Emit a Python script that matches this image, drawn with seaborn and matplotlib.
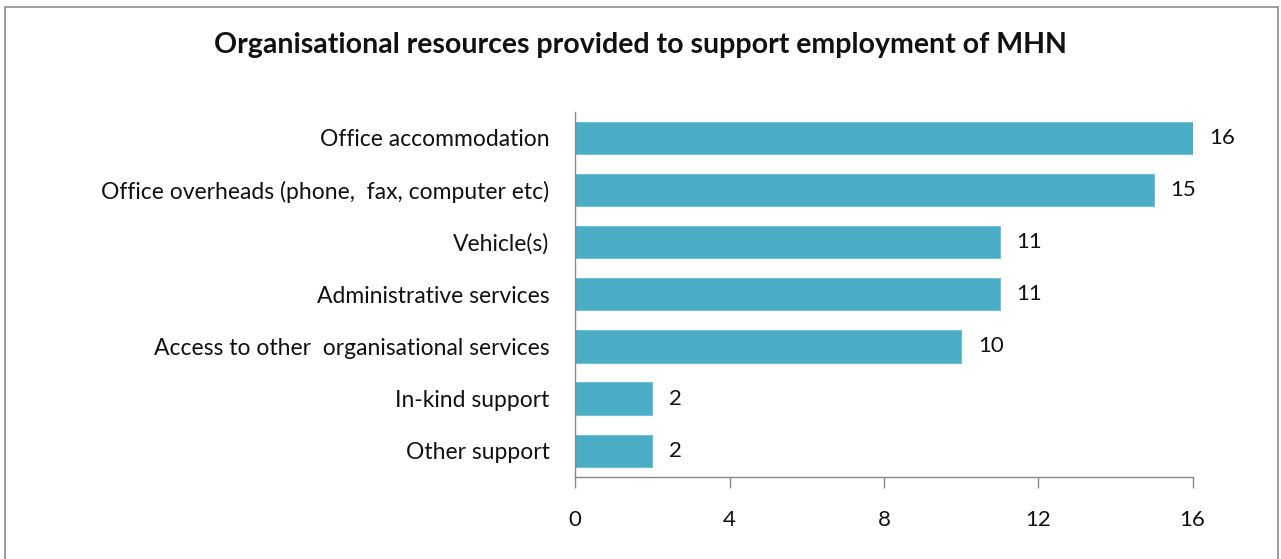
import pandas as pd
from matplotlib import pyplot as plt
from matplotlib import patches
import seaborn as sns

categories = [
    "Office accommodation",
    "Office overheads (phone,  fax, computer etc)",
    "Vehicle(s)",
    "Administrative services",
    "Access to other  organisational services",
    "In-kind support",
    "Other support",
]
counts = [16, 15, 11, 11, 10, 2, 2]
x_ticks = [0, 4, 8, 12, 16]

sns.set_style("white")
plt.rcParams["font.family"] = ["Lato", "DejaVu Sans"]

df = pd.DataFrame({"resource": categories, "count": counts})

fig = plt.figure(figsize=(12.81, 5.59), dpi=100)
ax = fig.add_axes([0.449, 0.147, 0.482, 0.653])

sns.barplot(data=df, x="count", y="resource", color="#4BACC6", width=0.62,
            saturation=1, edgecolor="#6FC0D4", linewidth=0.8, ax=ax)

for c in ax.containers:
    ax.bar_label(c, padding=12, fontsize=16, color="#111111")

ax.set_xlim(0, 16)
ax.set_xticks(x_ticks)
ax.set_xlabel("")
ax.set_ylabel("")
ax.tick_params(axis="x", bottom=True, length=8, width=1, color="#888888",
               labelsize=16, pad=16, labelcolor="#111111")
ax.tick_params(axis="y", left=False, labelsize=16.5, pad=15, labelcolor="#111111")
for s in ["top", "right"]:
    ax.spines[s].set_visible(False)
for s in ["left", "bottom"]:
    ax.spines[s].set_color("#888888")
    ax.spines[s].set_linewidth(1)

fig.text(0.5, 0.92, "Organisational resources provided to support employment of MHN",
         ha="center", va="center", fontsize=20.5, fontweight="bold", color="#111111")

fig.patches.append(patches.Rectangle((5 / 1281, -0.01), 1 - 8 / 1281, 1 - 7 / 559 + 0.01,
                                     transform=fig.transFigure, fill=False,
                                     edgecolor="#8C8C8C", linewidth=1.2))

fig.savefig("out.png", dpi=100)
